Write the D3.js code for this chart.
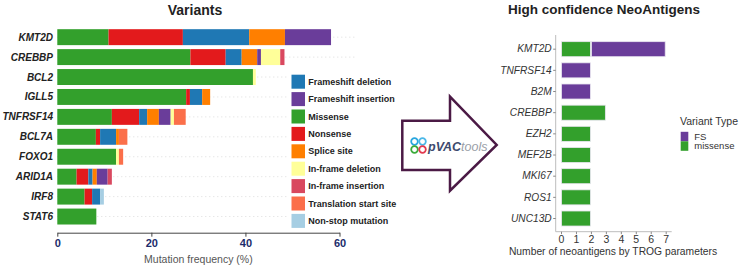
<!DOCTYPE html>
<html>
<head>
<meta charset="utf-8">
<script src="https://cdn.jsdelivr.net/npm/d3@7"></script>
<style>
  html, body { margin: 0; padding: 0; background: #ffffff; }
  svg { display: block; font-family: "Liberation Sans", Arial, sans-serif; }
</style>
</head>
<body>
<div id="chart"></div>
<script>
// ---- Left panel data: mutation frequency (%) by variant class ----
const leftGenes = ["KMT2D", "CREBBP", "BCL2", "IGLL5", "TNFRSF14", "BCL7A", "FOXO1", "ARID1A", "IRF8", "STAT6"];
const missense     = [10.9, 28.3, 41.6, 27.4, 11.6, 8.2, 12.5, 4.1, 5.8, 8.3];
const nonsense     = [15.8, 7.5, 0, 0.8, 5.8, 0.9, 0, 2.5, 1.6, 0];
const fsDeletion   = [14.1, 3.4, 0, 2.6, 1.7, 3.4, 0, 0.9, 1.7, 0];
const spliceSite   = [7.6, 3.3, 0, 1.7, 2.5, 0.6, 0, 0.9, 0, 0];
const fsInsertion  = [9.8, 0.8, 0, 0, 2.5, 0, 0, 2.3, 0, 0];
const ifDeletion   = [0, 4.1, 0.6, 0, 0.7, 0, 0.6, 0, 0, 0];
const ifInsertion  = [0, 0.9, 0, 0, 0, 0, 0, 0.9, 0, 0];
const transStart   = [0, 0, 0, 0, 2.5, 1.8, 0.9, 0, 0, 0];
const nonStop      = [0, 0, 0, 0, 0, 0, 0, 0, 0.8, 0];
const leftTicks = [0, 20, 40, 60];

const stackOrder = ["Missense", "Nonsense", "Frameshift deletion", "Splice site", "Frameshift insertion",
                    "In-frame deletion", "In-frame insertion", "Translation start site", "Non-stop mutation"];
const stackValues = [missense, nonsense, fsDeletion, spliceSite, fsInsertion, ifDeletion, ifInsertion, transStart, nonStop];
const legendOrder = ["Frameshift deletion", "Frameshift insertion", "Missense", "Nonsense", "Splice site",
                     "In-frame deletion", "In-frame insertion", "Translation start site", "Non-stop mutation"];

// ---- Right panel data: number of neoantigens ----
const rightGenes = ["KMT2D", "TNFRSF14", "B2M", "CREBBP", "EZH2", "MEF2B", "MKI67", "ROS1", "UNC13D"];
const missenseCounts = [2, 0, 0, 3, 2, 2, 2, 2, 2];
const fsCounts       = [5, 2, 2, 0, 0, 0, 0, 0, 0];
const rightTicks = [0, 1, 2, 3, 4, 5, 6, 7];
const rightLegend = ["FS", "missense"];

const variantColors = {
  "Frameshift deletion": "#1f78b4",
  "Frameshift insertion": "#6a3d9a",
  "Missense": "#33a02c",
  "Nonsense": "#e31a1c",
  "Splice site": "#ff7f00",
  "In-frame deletion": "#ffff99",
  "In-frame insertion": "#d9485f",
  "Translation start site": "#fb6f4a",
  "Non-stop mutation": "#a6cee3"
};
const neoColors = { "FS": "#6a3d9a", "missense": "#33a02c" };

const width = 740, height = 270;
const svg = d3.select("#chart").append("svg")
  .attr("width", width).attr("height", height);

// ================= Left panel =================
const leftX = d3.scaleLinear().domain([0, 60]).range([57.3, 339.5]);
const leftY = d3.scaleBand().domain(leftGenes).range([27.2, 226.5]).paddingInner(0.2).paddingOuter(0.1);

// dotted row guides
svg.append("g").selectAll("line")
  .data(leftGenes).enter().append("line")
  .attr("x1", leftX(0)).attr("x2", 355)
  .attr("y1", d => leftY(d) + leftY.bandwidth() / 2)
  .attr("y2", d => leftY(d) + leftY.bandwidth() / 2)
  .attr("stroke", "#dcdcdc").attr("stroke-width", 1).attr("stroke-dasharray", "1,3");

const leftRows = leftGenes.map((g, i) => {
  const row = { gene: g };
  stackOrder.forEach((k, j) => { row[k] = stackValues[j][i]; });
  return row;
});
const leftStack = d3.stack().keys(stackOrder)(leftRows);

svg.append("g").selectAll("g")
  .data(leftStack).enter().append("g")
  .attr("fill", d => variantColors[d.key])
  .selectAll("rect")
  .data(d => d.filter(s => s[1] - s[0] > 0)).enter().append("rect")
  .attr("x", d => leftX(d[0]))
  .attr("y", d => leftY(d.data.gene))
  .attr("width", d => leftX(d[1]) - leftX(d[0]))
  .attr("height", leftY.bandwidth());

// gene labels
svg.append("g").selectAll("text")
  .data(leftGenes).enter().append("text")
  .attr("x", 53)
  .attr("y", d => leftY(d) + leftY.bandwidth() / 2)
  .attr("dy", "0.35em")
  .attr("text-anchor", "end")
  .style("font-size", "10px").style("font-weight", "bold").style("font-style", "italic")
  .attr("fill", "#222")
  .text(d => d);

// x axis
const leftAxis = svg.append("g")
  .attr("transform", "translate(0,232.7)")
  .call(d3.axisBottom(leftX).tickValues(leftTicks).tickSize(4).tickPadding(3).tickSizeOuter(0));
leftAxis.select(".domain").attr("stroke", "#444");
leftAxis.selectAll(".tick line").attr("stroke", "#444");
leftAxis.selectAll("text")
  .style("font-size", "11px").style("font-weight", "bold")
  .style("font-family", "'Liberation Sans', Arial, sans-serif")
  .attr("fill", "#1c2c6b");

svg.append("text")
  .attr("x", (leftX(0) + leftX(60)) / 2).attr("y", 263)
  .attr("text-anchor", "middle")
  .style("font-size", "10.5px").attr("fill", "#555")
  .text("Mutation frequency (%)");

svg.append("text")
  .attr("x", 195).attr("y", 15)
  .attr("text-anchor", "middle")
  .style("font-size", "14px").style("font-weight", "bold").attr("fill", "#222")
  .text("Variants");

// legend
const legend = svg.append("g");
legend.append("rect").attr("x", 288).attr("y", 72).attr("width", 104).attr("height", 158).attr("fill", "#fff");
const legendItems = legend.selectAll("g")
  .data(legendOrder).enter().append("g")
  .attr("transform", (d, i) => `translate(291.5,${81.7 + i * 17.4})`);
legendItems.append("rect")
  .attr("x", 0).attr("y", -7).attr("width", 13.5).attr("height", 14)
  .attr("fill", d => variantColors[d]);
legendItems.append("text")
  .attr("x", 16.8).attr("y", 0).attr("dy", "0.35em")
  .style("font-size", "9px").style("font-weight", "bold").attr("fill", "#222")
  .text(d => d);

// ================= Arrow with pVACtools logo =================
svg.append("path")
  .attr("d", "M402.3,120.7 L450,120.7 L450,96.7 L496.7,145 L450,190.7 L450,170 L402.3,170 Z")
  .attr("fill", "#fff").attr("stroke", "#4b1a45").attr("stroke-width", 2.5).attr("stroke-linejoin", "miter");

const logo = svg.append("g").attr("transform", "translate(418.5,145.5)");
[["#2aa7df", -4, -4], ["#4bb8e8", 4, -4], ["#3bab3b", -4, 4], ["#e2394f", 4, 4]].forEach(c => {
  logo.append("circle").attr("cx", c[1]).attr("cy", c[2]).attr("r", 3.3)
    .attr("fill", "none").attr("stroke", c[0]).attr("stroke-width", 1.8);
});
const logoText = svg.append("text").attr("x", 428).attr("y", 150.5)
  .style("font-size", "12.5px").style("font-style", "italic");
logoText.append("tspan").attr("fill", "#3d4a6e").style("font-weight", "bold").text("pVAC");
logoText.append("tspan").attr("fill", "#9aa0a8").text("tools");

// ================= Right panel =================
const rightX = d3.scaleLinear().domain([0, 7]).range([561, 665.7]);
const rightY = d3.scaleBand().domain(rightGenes).range([38.6, 229.1]).paddingInner(0.29).paddingOuter(0.145);

const rightRows = rightGenes.map((g, i) => ({ gene: g, missense: missenseCounts[i], FS: fsCounts[i] }));
const rightStack = d3.stack().keys(["missense", "FS"])(rightRows);

svg.append("g").selectAll("g")
  .data(rightStack).enter().append("g")
  .attr("fill", d => neoColors[d.key])
  .selectAll("rect")
  .data(d => d.filter(s => s[1] - s[0] > 0)).enter().append("rect")
  .attr("x", d => rightX(d[0]) + 0.5)
  .attr("y", d => rightY(d.data.gene))
  .attr("width", d => rightX(d[1]) - rightX(d[0]) - 1)
  .attr("height", rightY.bandwidth())
  .attr("stroke", "#e9e6f0").attr("stroke-width", 0.8);

const rightYAxis = svg.append("g")
  .attr("transform", "translate(555.7,0)")
  .call(d3.axisLeft(rightY).tickSize(2.5).tickPadding(1.5).tickSizeOuter(0));
rightYAxis.select(".domain").attr("stroke", "#bdbdbd").attr("d", "M0,35V231.7");
rightYAxis.selectAll(".tick line").attr("stroke", "#888");
rightYAxis.selectAll("text")
  .style("font-size", "10.2px").style("font-style", "italic")
  .style("font-family", "'Liberation Sans', Arial, sans-serif")
  .attr("fill", "#333");

const rightXAxis = svg.append("g")
  .attr("transform", "translate(0,231.7)")
  .call(d3.axisBottom(rightX).tickValues(rightTicks).tickFormat(d3.format("d"))
    .tickSize(2.5).tickPadding(1.5).tickSizeOuter(0));
rightXAxis.select(".domain").attr("stroke", "#bdbdbd").attr("d", "M555.7,0H671.7");
rightXAxis.selectAll(".tick line").attr("stroke", "#888");
rightXAxis.selectAll("text")
  .style("font-size", "10.5px")
  .style("font-family", "'Liberation Sans', Arial, sans-serif")
  .attr("fill", "#333");

svg.append("text")
  .attr("x", 613).attr("y", 254.5)
  .attr("text-anchor", "middle")
  .style("font-size", "10.3px").attr("fill", "#333")
  .text("Number of neoantigens by TROG parameters");

svg.append("text")
  .attr("x", 604).attr("y", 14)
  .attr("text-anchor", "middle")
  .style("font-size", "13.5px").style("font-weight", "bold").attr("fill", "#222")
  .text("High confidence NeoAntigens");

// right legend
svg.append("text")
  .attr("x", 680).attr("y", 121.7).attr("dy", "0.35em")
  .style("font-size", "10.5px").attr("fill", "#333")
  .text("Variant Type");
const rLeg = svg.append("g").selectAll("g")
  .data(rightLegend).enter().append("g")
  .attr("transform", (d, i) => `translate(680.7,${131.8 + i * 9.5})`);
rLeg.append("rect").attr("width", 7.6).attr("height", 9.5).attr("fill", d => neoColors[d]);
rLeg.append("text")
  .attr("x", 13.6).attr("y", 4.75).attr("dy", "0.35em")
  .style("font-size", "9.5px").attr("fill", "#333")
  .text(d => d);
</script>
</body>
</html>
